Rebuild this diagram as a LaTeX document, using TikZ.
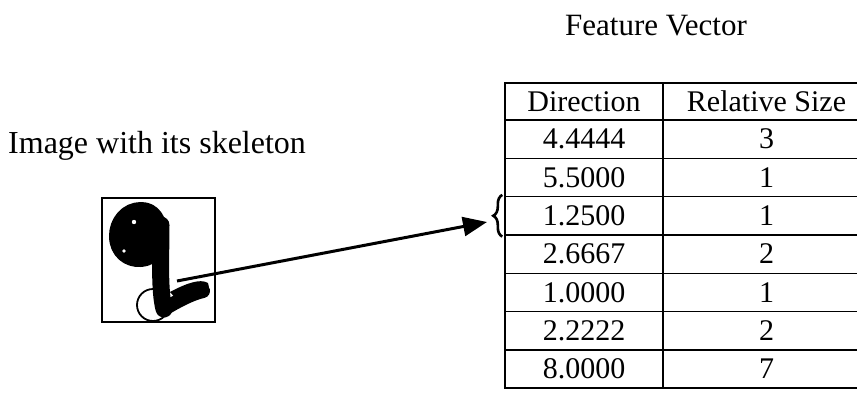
\documentclass[tikz,border=0pt]{standalone}
\usepackage{fontspec}
\setmainfont{Liberation Serif}
\usetikzlibrary{arrows.meta,decorations.pathreplacing,calc}
\begin{document}
\begin{tikzpicture}[x=1pt,y=-1pt,
  font=\fontsize{30}{36}\selectfont,
  cell/.style={draw, line width=1.4pt, inner sep=0pt, anchor=center, minimum height=38.3pt},
  colA/.style={cell, minimum width=158pt},
  colB/.style={cell, minimum width=207pt},
  lbl/.style={inner sep=0pt},
  ink/.style={line width=14pt, line cap=round, line join=round}]
\useasboundingbox (0,0) rectangle (857,394);
% titles
\node[lbl, anchor=base, font=\fontsize{31}{36}\selectfont] (title) at (656,35) {Feature Vector};
\node[lbl, anchor=base west, font=\fontsize{32}{38}\selectfont] (imgtitle) at (8,153) {Image with its skeleton};
% table
\begin{scope}
\clip (0,0) rectangle (857,394);
\node[colA, minimum height=37pt] (h1) at (584,101.5) {Direction};
\node[colB, minimum height=37pt] (h2) at (766.5,101.5) {Relative Size};
\foreach \d/\s [count=\i] in {4.4444/3,5.5000/1,1.2500/1,2.6667/2,1.0000/1,2.2222/2,8.0000/7}{
  \node[colA] (a\i) at (584,{120+38.3*(\i-0.5)}) {\d};
  \node[colB] (b\i) at (766.5,{120+38.3*(\i-0.5)}) {\s};
}
\end{scope}
% image box
\node[draw, line width=1.5pt, minimum width=113pt, minimum height=124pt, inner sep=0pt] (img) at (158.5,260) {};
% handwritten 9
\fill (141,209) .. controls (126,209) and (116,222) .. (116,236)
      .. controls (116,252) and (128,261) .. (141,260)
      .. controls (154,259) and (162,248) .. (161,234)
      .. controls (160,220) and (154,209) .. (141,209) -- cycle;
\draw[ink] (141,209) .. controls (126,209) and (116,222) .. (116,236)
      .. controls (116,252) and (128,261) .. (141,260)
      .. controls (154,259) and (162,248) .. (161,234)
      .. controls (160,220) and (154,209) .. (141,209) -- cycle;
\fill[white] (134,222) circle[radius=2.2pt];
\fill[white] (124,251) circle[radius=1.8pt];
\draw[ink, line width=17pt] (161,225) .. controls (161,255) and (159,290) .. (164,309);
\draw[ink] (164,309) .. controls (176,302) and (190,294) .. (203,291);
\fill (170,292) .. controls (185,284) and (200,278) .. (208,283)
      .. controls (212,292) and (200,300) .. (180,303) -- cycle;
% circle at bottom
\draw[line width=1.8pt] (153,305) circle[radius=16pt];
% arrow
\coordinate (start) at (177,281);
\coordinate (tip) at (487,222);
\draw[line width=3pt, -{Triangle[length=24pt,width=19pt]}] (start) -- (tip);
% brace
\coordinate (brB) at ($(a3.south west)+(-2,1)$);
\coordinate (brT) at ($(a3.north west)+(-2,-1)$);
\draw[line width=2.6pt, decorate, decoration={brace, amplitude=9pt}] (brB) -- (brT);
\end{tikzpicture}
\end{document}
